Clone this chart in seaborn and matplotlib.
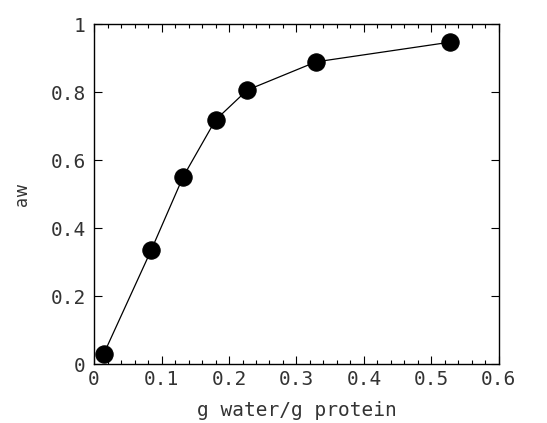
import numpy as np
import pandas as pd
import seaborn as sns
import matplotlib.pyplot as plt
from matplotlib.ticker import MultipleLocator

water = [0.014, 0.085, 0.132, 0.180, 0.227, 0.329, 0.528]
aw = [0.029, 0.337, 0.551, 0.718, 0.806, 0.889, 0.947]

xticks = [0, 0.1, 0.2, 0.3, 0.4, 0.5, 0.6]
xticklabels = ['0', '0.1', '0.2', '0.3', '0.4', '0.5', '0.6']
yticks = [0, 0.2, 0.4, 0.6, 0.8, 1.0]
yticklabels = ['0', '0.2', '0.4', '0.6', '0.8', '1']

sns.set_style('ticks')
plt.rcParams['font.family'] = ['DejaVu Sans Mono', 'DejaVu Sans']

df = pd.DataFrame({'water': water, 'aw': aw})

fig = plt.figure(figsize=(5.47, 4.23), dpi=100)
ax = fig.add_axes([0.172, 0.139, 0.74, 0.804])

sns.lineplot(data=df, x='water', y='aw', ax=ax, color='black', linewidth=0.9,
             marker='o', markersize=12.5, markeredgecolor='black',
             markerfacecolor='black', sort=False)

ax.set_xlim(0, 0.6)
ax.set_ylim(0, 1)
ax.xaxis.set_minor_locator(MultipleLocator(0.02))
ax.set_xticks(xticks)
ax.set_xticklabels(xticklabels)
ax.set_yticks(yticks)
ax.set_yticklabels(yticklabels)

ax.tick_params(which='both', direction='in', top=True, right=True,
               color='black', width=0.8)
ax.tick_params(which='major', length=6, labelsize=14, labelcolor='#333333')
ax.tick_params(axis='y', which='major', pad=6)
ax.tick_params(axis='x', which='major', pad=4)
ax.tick_params(which='minor', length=3)
for s in ax.spines.values():
    s.set_linewidth(1.0)
    s.set_color('black')

ax.set_xlabel('g water/g protein', fontsize=14, color='#333333', labelpad=9)
ax.set_ylabel('aw', fontsize=12, color='#333333', labelpad=14,
              family='DejaVu Sans')

fig.savefig('out.png', dpi=100)
